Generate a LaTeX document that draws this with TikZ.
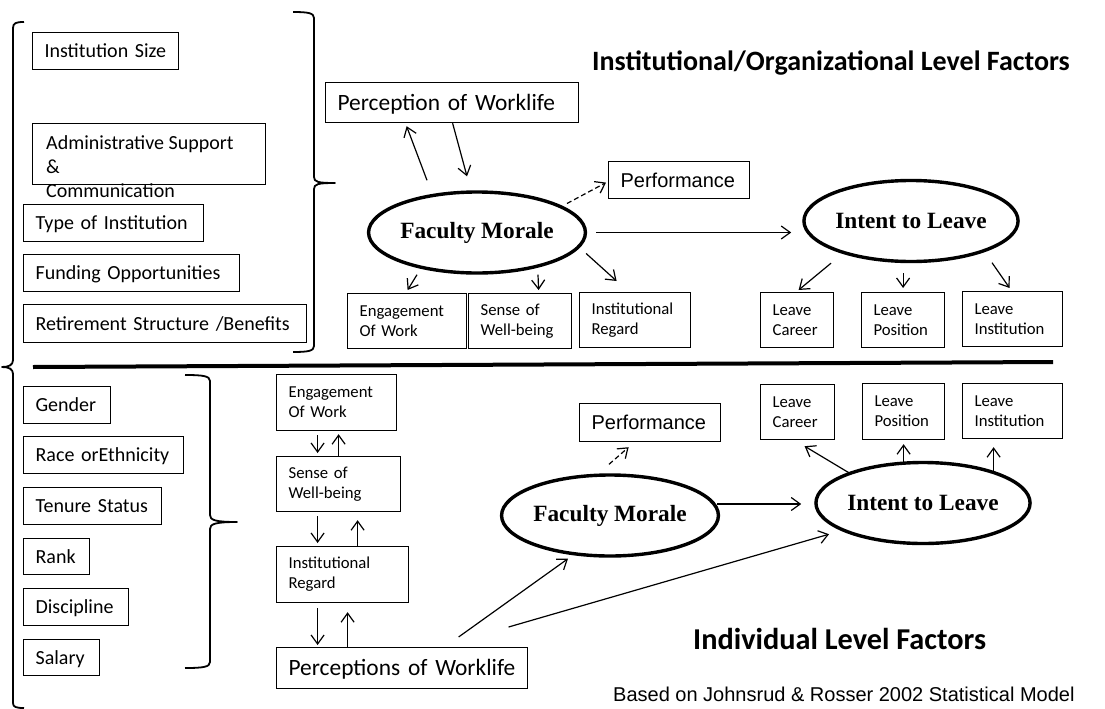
\documentclass[tikz,border=0pt]{standalone}
\usepackage{fontspec}
\setmainfont{Carlito}
\newfontfamily\arialfont{Liberation Sans}
\newfontfamily\timesfont{Liberation Serif}
\usetikzlibrary{shapes.geometric,arrows.meta}

\begin{document}
\begin{tikzpicture}[x=1pt,y=-1pt,
  box/.style={draw, line width=1.2pt, anchor=north west, align=left,
    inner xsep=12pt, inner ysep=0pt},
  txt/.style={font=\fontsize{20}{24}\selectfont, text height=13pt, text depth=0pt},
  small/.style={font=\fontsize{16.7}{20}\selectfont},
  big/.style={font=\fontsize{23.4}{28}\selectfont, text height=15pt, text depth=0pt},
  perf/.style={font=\arialfont\fontsize{20}{24}\selectfont, text height=14pt, text depth=0pt},
  oval/.style={ellipse, draw, line width=3.4pt, minimum width=204pt, minimum height=81pt,
    inner sep=0pt, font=\timesfont\bfseries\fontsize{23.3}{28}\selectfont},
  arr/.style={line width=1.2pt, -{Straight Barb[length=9pt,width=13pt]}},
  dsh/.style={dash pattern=on 5pt off 3pt},
  brace/.style={line width=1.8pt, line join=round},
  title/.style={font=\bfseries\fontsize{28}{32}\selectfont, anchor=base west, inner sep=0pt}
]
\useasboundingbox[fill=white] (0,0) rectangle (1105,709);

% ---------- institutional / organizational level ----------
\node[box, txt, text width=122pt, minimum height=37pt] (isize) at (32,32) {Institution Size};
\node[box, minimum width=233pt, minimum height=61pt] (adm) at (32,123) {};
\node[anchor=west, align=left, inner sep=0pt, font=\fontsize{20}{24}\selectfont] (admtxt) at (46,167)
  {Administrative Support\\\&\\Communication};
\node[box, txt, text width=156pt, minimum height=37pt] (type) at (23,204) {Type of Institution};
\node[box, txt, text width=192pt, minimum height=37pt] (fund) at (23,254) {Funding Opportunities};
\node[box, txt, text width=259pt, minimum height=38pt] (ret) at (23,304) {Retirement Structure /Benefits};

\node[box, big, text width=229pt, minimum height=40pt] (pw1) at (325,82) {Perception of Worklife};
\node[box, perf, text width=117pt, minimum height=37pt] (perf1) at (608,161) {Performance};
\node[oval] (fm1) at (477,232.5) {Faculty Morale};
\node[oval] (il1) at (911,221) {Intent to Leave};

\node[box, small, text width=95pt, minimum height=55pt] (eng1) at (347,293) {Engagement\\Of Work};
\node[box, small, text width=79pt, minimum height=55pt] (sen1) at (468,293) {Sense of\\Well-being};
\node[box, small, text width=87pt, minimum height=55pt] (ir1) at (579,292) {Institutional\\Regard};
\node[box, small, text width=49pt, minimum height=55pt] (lc1) at (760,292) {Leave\\Career};
\node[box, small, text width=59pt, minimum height=55pt] (lp1) at (861,292) {Leave\\Position};
\node[box, small, text width=76pt, minimum height=55pt] (li1) at (962,291) {Leave\\Institution};

\node[title] (ttop) at (592,70.7) {Institutional/Organizational Level Factors};

% arrows of the upper model
\draw[arr] ([shift={(-50pt,10pt)}]fm1.north) -- ([shift={(-45.5pt,-3pt)}]pw1.south);
\draw[arr] ([xshift=0.5pt]pw1.south) -- ([shift={(-10pt,14pt)}]fm1.north);
\draw[arr, dsh] ([shift={(90pt,29pt)}]fm1.center) -- ([shift={(-2pt,-2.5pt)}]perf1.west);
\draw[arr, shorten >=11pt] ([xshift=9pt]fm1.east) -- (il1.west |- fm1.east);
\draw[arr] ([xshift=-60pt]fm1.south) -- ([shift={(0.5pt,3pt)}]eng1.north);
\draw[arr] ([xshift=61pt]fm1.south) -- ([shift={(18.5pt,3pt)}]sen1.north);
\draw[arr] ([shift={(-1pt,-21pt)}]fm1.east) -- ([shift={(-18.5pt,11pt)}]ir1.north);
\draw[arr] ([xshift=-80pt]il1.south) -- ([shift={(1.5pt,2pt)}]lc1.north);
\draw[arr] ([yshift=19pt]lp1.north) -- ([yshift=4pt]lp1.north);
\draw[arr] ([shift={(81pt,0.5pt)}]il1.south) -- ([shift={(-3pt,3pt)}]li1.north);

% braces of the upper part
\draw[brace] (24,22) .. controls (16,22) and (13,23) .. (13,28) -- (13,360)
  .. controls (13,365) and (9,367) .. (2,367)
  .. controls (9,367) and (13,369) .. (13,374) -- (13,703)
  .. controls (13,707) and (16,708) .. (24,708);
\draw[brace] (293,12) .. controls (308,12) and (314,13) .. (314,18) -- (314,177)
  .. controls (314,182) and (318,183) .. (335,183)
  .. controls (318,183) and (314,184) .. (314,189) -- (314,346)
  .. controls (314,351) and (308,352) .. (293,352);

% separator between the two levels
\draw[line width=4pt] (33,367) -- (1053,362);

% ---------- individual level ----------
\node[box, txt, text width=63pt, minimum height=37pt] (gender) at (23,386) {Gender};
\node[box, txt, text width=136pt, minimum height=37pt] (race) at (23,436) {Race orEthnicity};
\node[box, txt, text width=114pt, minimum height=37pt] (tenure) at (23,487) {Tenure Status};
\node[box, txt, text width=42pt, minimum height=36pt] (rank) at (23,538) {Rank};
\node[box, txt, text width=81pt, minimum height=37pt] (disc) at (23,588) {Discipline};
\node[box, txt, text width=52pt, minimum height=36pt] (salary) at (23,639) {Salary};

\draw[brace] (185,375) .. controls (203,375) and (210,376) .. (210,381) -- (210,515)
  .. controls (210,520) and (215,522) .. (237,522)
  .. controls (215,522) and (210,524) .. (210,529) -- (210,662)
  .. controls (210,667) and (203,668) .. (185,668);

\node[box, small, text width=96pt, minimum height=56pt] (eng2) at (276,374) {Engagement\\Of Work};
\node[box, small, text width=100pt, minimum height=55pt] (sen2) at (276,456) {Sense of\\Well-being};
\node[box, small, text width=108pt, minimum height=56pt] (ir2) at (276,546) {Institutional\\Regard};
\node[box, big, text width=227pt, minimum height=41pt] (pw2) at (276,647) {Perceptions of Worklife};

\node[box, perf, text width=117pt, minimum height=38pt] (perf2) at (579,403) {Performance};
\node[oval] (fm2) at (610,515.5) {Faculty Morale};
\node[oval] (il2) at (923,503) {Intent to Leave};

\node[box, small, text width=50pt, minimum height=55pt] (lc2) at (760,384) {Leave\\Career};
\node[box, small, text width=58pt, minimum height=56pt] (lp2) at (862,383) {Leave\\Position};
\node[box, small, text width=76pt, minimum height=55pt] (li2) at (962,383) {Leave\\Institution};

\node[title, font=\bfseries\fontsize{30.3}{34}\selectfont] (tbot) at (693,649) {Individual Level Factors};
\node[anchor=base west, inner sep=0pt, font=\arialfont\fontsize{20}{24}\selectfont] (src) at (613,701)
  {Based on Johnsrud \& Rosser 2002 Statistical Model};

% arrows of the lower model
\draw[arr] ([shift={(-19pt,-4pt)}]eng2.south) -- ([shift={(-21pt,3pt)}]sen2.north);
\draw[arr] (sen2.north) -- ([shift={(2pt,-3pt)}]eng2.south);
\draw[arr] ([shift={(-21pt,-4pt)}]sen2.south) -- ([shift={(-25pt,3pt)}]ir2.north);
\draw[arr] ([xshift=15pt]ir2.north) -- ([shift={(19pt,-8pt)}]sen2.south);
\draw[arr] ([shift={(-25pt,-5pt)}]ir2.south) -- ([shift={(-84.5pt,2pt)}]pw2.north);
\draw[arr] ([xshift=-54.5pt]pw2.north) -- ([shift={(5pt,-9pt)}]ir2.south);

\draw[arr, dsh] ([shift={(-1pt,9pt)}]fm2.north) -- ([shift={(-21.5pt,-5pt)}]perf2.south);
\draw[arr] ([shift={(56.5pt,10pt)}]pw2.north) -- ([shift={(-42pt,-1pt)}]fm2.south);
\draw[arr] ([shift={(106.5pt,20pt)}]pw2.north) -- ([shift={(-94pt,11pt)}]il2.south);
\coordinate (fmr) at ([shift={(-3pt,11.5pt)}]fm2.east);
\draw[arr, shorten >=13pt] (fmr) -- (il2.west |- fmr);
\draw[arr] ([shift={(-74pt,-12pt)}]il2.north) -- ([shift={(7pt,-6pt)}]lc2.south);
\draw[arr] ([yshift=-24pt]lp2.south) -- ([yshift=-4pt]lp2.south);
\draw[arr] ([shift={(-19pt,-35pt)}]li2.south) -- ([shift={(-19pt,-8pt)}]li2.south);
\end{tikzpicture}
\end{document}
